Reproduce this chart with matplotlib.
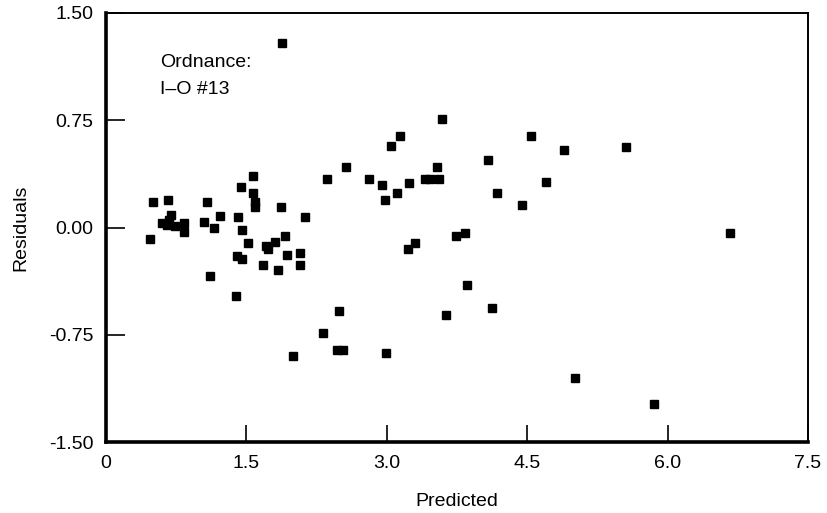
import matplotlib
matplotlib.use('Agg')
import matplotlib.pyplot as plt

plt.rcParams['font.family'] = ['Liberation Sans', 'DejaVu Sans']

# predicted values and residuals
predicted = [1.88, 0.50, 0.66, 1.08, 1.44, 1.57, 1.57, 1.59, 1.59, 1.87, 2.13,
             0.47, 0.60, 0.65, 0.70, 0.67, 0.74, 0.83, 0.83, 1.05, 1.16, 1.22,
             1.41, 1.45, 1.52, 1.71, 1.73, 1.81, 1.91, 1.93, 2.07, 1.40, 1.45,
             1.11, 1.39, 1.68, 1.84, 2.07,
             2.36, 2.56, 2.81, 2.95, 3.05, 3.14, 3.11, 3.24, 2.98, 3.23, 3.30,
             3.59, 4.54, 4.89, 5.56, 4.08, 3.54, 3.41, 3.46, 3.56, 4.70, 4.18,
             4.44, 6.67, 3.74, 3.84,
             2.49, 2.32, 2.47, 2.53, 2.00, 2.99, 3.86, 3.63, 4.12, 5.01, 5.85]
residuals = [1.29, 0.18, 0.195, 0.18, 0.28, 0.36, 0.24, 0.18, 0.14, 0.145, 0.075,
             -0.08, 0.035, 0.02, 0.09, 0.05, 0.01, 0.035, -0.03, 0.04, 0.0, 0.08,
             0.075, -0.02, -0.11, -0.13, -0.15, -0.10, -0.06, -0.195, -0.18, -0.20, -0.22,
             -0.34, -0.48, -0.26, -0.30, -0.26,
             0.34, 0.42, 0.34, 0.30, 0.57, 0.64, 0.24, 0.31, 0.19, -0.15, -0.11,
             0.76, 0.64, 0.54, 0.565, 0.47, 0.42, 0.34, 0.34, 0.34, 0.32, 0.24,
             0.16, -0.035, -0.06, -0.04,
             -0.58, -0.74, -0.855, -0.855, -0.90, -0.88, -0.40, -0.61, -0.56, -1.05, -1.23]

xticks = [0, 1.5, 3.0, 4.5, 6.0, 7.5]
xticklabels = ['0', '1.5', '3.0', '4.5', '6.0', '7.5']
yticks = [-1.5, -0.75, 0.0, 0.75, 1.5]
yticklabels = ['-1.50', '-0.75', '0.00', '0.75', '1.50']

fig = plt.figure(figsize=(8.27, 5.13), dpi=100)
ax = fig.add_axes([0.128, 0.138, 0.849, 0.837])

ax.plot(predicted, residuals, 's', color='black', markersize=5.3, linestyle='none')

ax.set_xlim(0, 7.5)
ax.set_ylim(-1.5, 1.5)
ax.set_xticks(xticks)
ax.set_xticklabels(xticklabels)
ax.set_yticks(yticks)
ax.set_yticklabels(yticklabels)

ax.tick_params(axis='x', direction='in', length=12, width=1.2, pad=9, labelsize=14)
ax.tick_params(axis='y', direction='in', length=14, width=1.2, pad=9, labelsize=14)

ax.spines['left'].set_linewidth(2.6)
ax.spines['bottom'].set_linewidth(2.6)
ax.spines['top'].set_linewidth(1.4)
ax.spines['right'].set_linewidth(1.4)

ax.set_xlabel('Predicted', fontsize=14, labelpad=15)
ax.set_ylabel('Residuals', fontsize=14, labelpad=14)

ax.text(0.577, 1.123, 'Ordnance:', fontsize=14, va='baseline')
ax.text(0.577, 0.935, 'I–O #13', fontsize=14, va='baseline')

fig.savefig('out.png', dpi=100)
